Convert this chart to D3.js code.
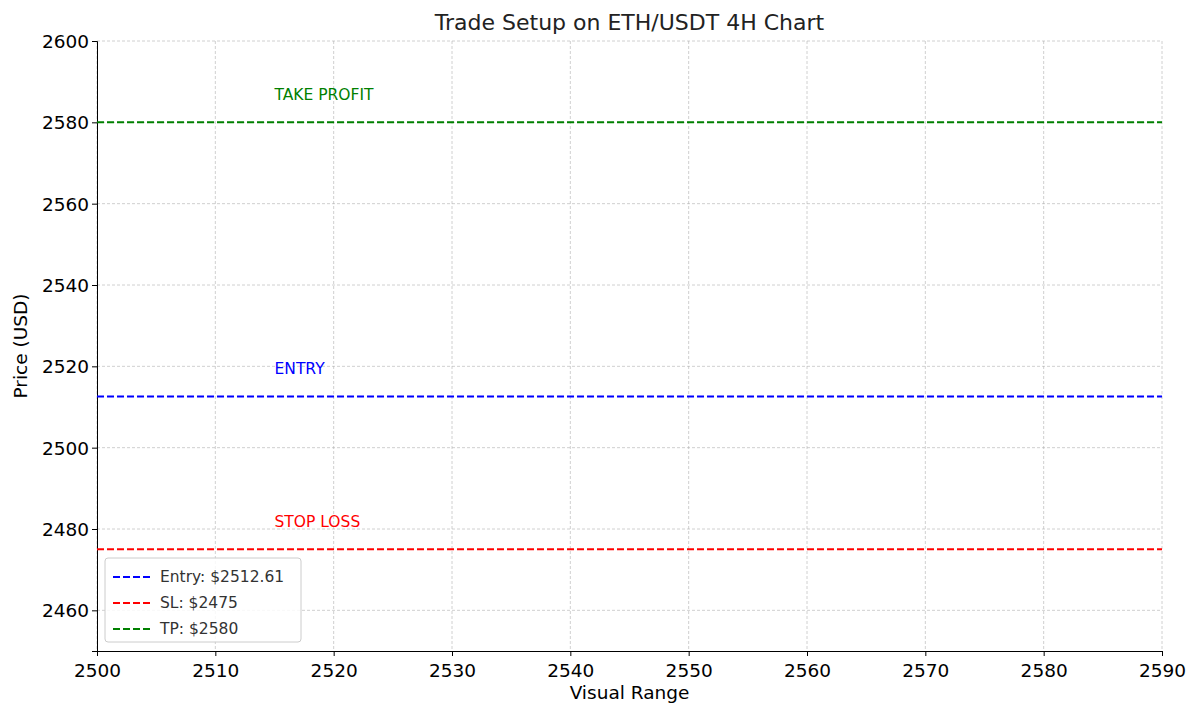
<!DOCTYPE html>
<html><head><meta charset="utf-8">
<script src="https://cdn.jsdelivr.net/npm/d3@7"></script>
<style>body{margin:0;background:#fff}text{font-family:"DejaVu Sans",sans-serif}</style>
</head><body><svg id="c" width="1200" height="716"></svg>
<script>
const xTicks=[2500,2510,2520,2530,2540,2550,2560,2570,2580,2590];
const yTicks=[2460,2480,2500,2520,2540,2560,2580,2600];
const levelNames=["Entry: $2512.61","SL: $2475","TP: $2580"];
const levelValues=[2512.61,2475,2580];
const levelColors=["#0000ff","#ff0000","#008000"];
const labelTexts=["ENTRY","STOP LOSS","TAKE PROFIT"];
const labelX=2515, labelOffset=5.5;

const svg=d3.select("#c");
const L=97,R=1162,T=41,B=651;
const x=d3.scaleLinear().domain([2500,2590]).range([L,R]);
const y=d3.scaleLinear().domain([2450,2600]).range([B,T]);

const g=svg.append("g");
g.selectAll(".gx").data(xTicks).join("line").attr("x1",d=>x(d)).attr("x2",d=>x(d)).attr("y1",T).attr("y2",B)
 .attr("stroke","#b0b0b0").attr("stroke-opacity",0.6).attr("stroke-dasharray","3,2");
g.selectAll(".gy").data(yTicks).join("line").attr("y1",d=>y(d)).attr("y2",d=>y(d)).attr("x1",L).attr("x2",R)
 .attr("stroke","#b0b0b0").attr("stroke-opacity",0.6).attr("stroke-dasharray","3,2");

svg.append("g").attr("transform",`translate(0,${B})`).call(d3.axisBottom(x).tickValues(xTicks).tickFormat(d3.format("d")).tickSizeOuter(0).tickSize(5))
 .call(a=>a.selectAll("text").attr("font-size",18.5).attr("fill","#000").attr("dy","0.95em"))
 .call(a=>a.select(".domain").attr("stroke","#000"));
svg.append("g").attr("transform",`translate(${L},0)`).call(d3.axisLeft(y).tickValues(yTicks).tickFormat(d3.format("d")).tickSizeOuter(0).tickSize(5))
 .call(a=>a.selectAll("text").attr("font-size",18.5).attr("fill","#000").attr("dy","0.35em"))
 .call(a=>a.select(".domain").attr("stroke","#000"));

levelValues.forEach((v,i)=>{
  svg.append("line").attr("x1",L).attr("x2",R).attr("y1",y(v)).attr("y2",y(v))
   .attr("stroke",levelColors[i]).attr("stroke-width",2).attr("stroke-dasharray","7,3");
  svg.append("text").attr("x",x(labelX)).attr("y",y(v+labelOffset)).attr("font-size",15.5)
   .attr("fill",levelColors[i]).text(labelTexts[i]);
});

svg.append("text").attr("x",(L+R)/2).attr("y",30).attr("text-anchor","middle").attr("font-size",22).attr("fill","#222").text("Trade Setup on ETH/USDT 4H Chart");
svg.append("text").attr("x",(L+R)/2).attr("y",699).attr("text-anchor","middle").attr("font-size",18.5).text("Visual Range");
svg.append("text").attr("transform",`translate(27,${(T+B)/2}) rotate(-90)`).attr("text-anchor","middle").attr("font-size",18.5).text("Price (USD)");

const lg=svg.append("g").attr("transform","translate(105,558)");
lg.append("rect").attr("width",196).attr("height",84).attr("rx",3).attr("fill","#fff").attr("fill-opacity",0.85).attr("stroke","#ccc");
levelNames.forEach((n,i)=>{
  const yy=19+i*26;
  lg.append("line").attr("x1",8).attr("x2",45).attr("y1",yy).attr("y2",yy).attr("stroke",levelColors[i]).attr("stroke-width",2).attr("stroke-dasharray","7,3");
  lg.append("text").attr("x",55).attr("y",yy).attr("dy","0.35em").attr("font-size",15.5).attr("fill","#333").text(n);
});
</script></body></html>
